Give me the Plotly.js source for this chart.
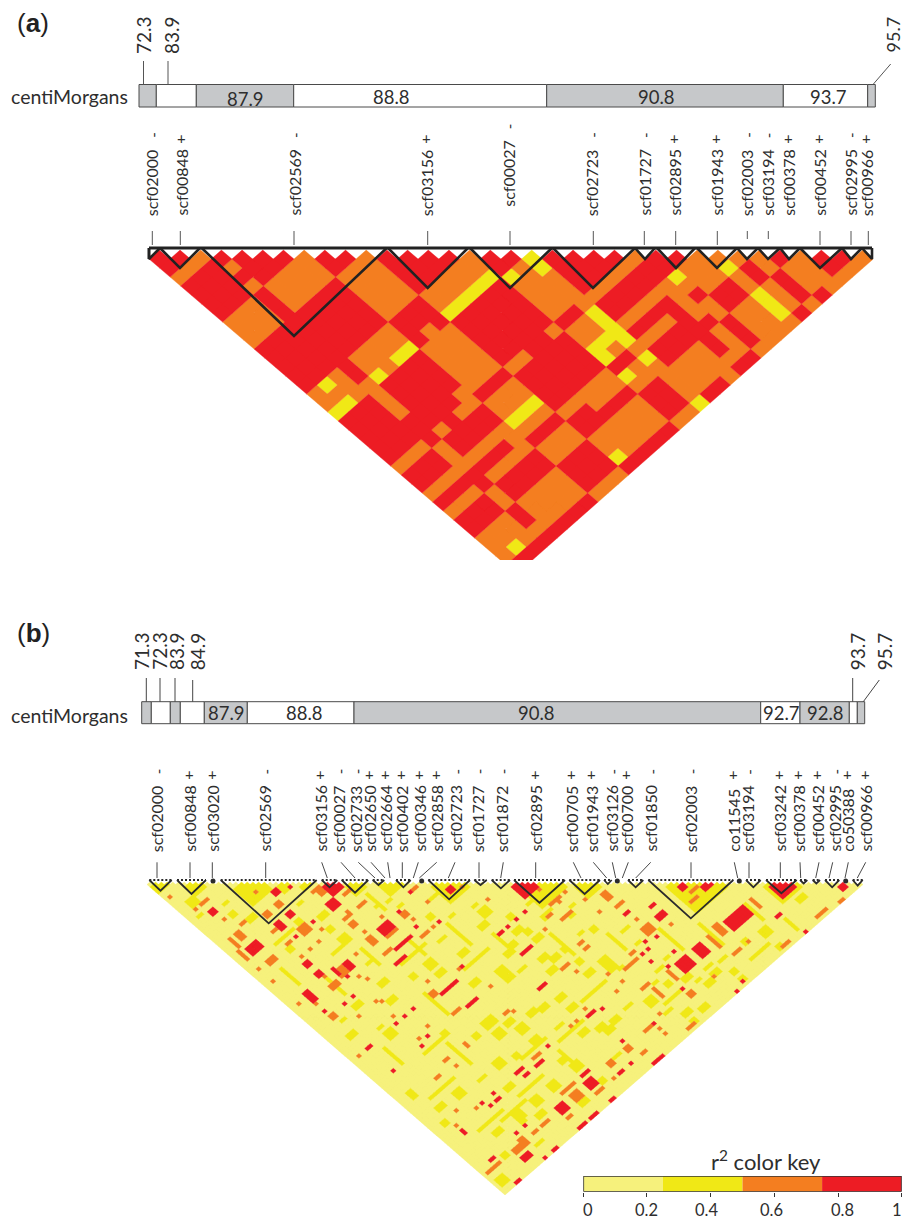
<!DOCTYPE html>
<html><head><meta charset="utf-8">
<script src="https://cdn.plot.ly/plotly-3.0.1.min.js"></script>
<style>html,body{margin:0;padding:0;background:#fff}#c{width:904px;height:1219px}</style></head>
<body><div id="c"></div>
<script>
// ---------- r2 classes ----------
var keyBreaks=[0,0.25,0.5,0.75,1];
var keyColors=['#f6f17c','#f0e816','#f47e20','#ed1c24'];
var keyTicks=[0,0.2,0.4,0.6,0.8,1];
var keyLabels=['0','0.2','0.4','0.6','0.8','1'];

// ---------- panel a: LD classes, one run-length string per SNP j (r=0.75-1, o=0.5-0.75, y=0.25-0.5) ----------
var aRows=["1r","2r","3o","4r","3r1o1r","6r","3r1o3r","3o1r4o","3o1r4o1r","3o1r4o2r","8r3o","8r3o1r","8r3o2r","8r3o3r","8r3o4r",
"1o1y1o1r4o3r5o","3o1r4o3r5o1r","2y2o1y1o2y1r1o1r5y2r","3r1o4r3o5r1y1o1y","3r1o4r3o5r2o1y1r","3r1o4r3o5r3o2r","8r3o5r3o3r","7r4o5r3o4r",
"3o1r1o1r2o3r2o2r1o2r6o","3r1o4r3o5r2o1y6r","3r1o4r3o5r2o1y7r","8o3y5r3y5o1y2o","7r4o5r1y1o1y4r5o","3o1r4o3r5o2r4o1r1o1r2o1y1o",
"3r1o4r3o2r3o1y1o1y4r2o2r1o1r1o","3r1o4r3o5r3o5r1o2r1o1r1o1r","3o1r4o3r5o2r4o1r1o1r2o1y1o1r2o","3o1r4o3r5o2r4o1r1o1r2o1y1o1r2o1r",
"1o1y6o3r1y4o2r6o1r2o1y1o1r2o2r","8r3o5r2o1y2r1o2r4o1r1o1r4o"];

// ---------- panel b: 125 SNPs, pale everywhere except these blocks [i0,i1,j0,j1] ----------
var bYellow=[[3,5,10,12],[8,9,20,21],[10,12,24,25],[11,12,37,38],[18,19,33,34],[23,25,36,37],[22,23,40,41],[22,24,44,45],[32,34,64,66],[32,34,68,69],[20,22,60,61],[18,20,65,66],[11,13,60,61],[4,6,65,66],[11,13,71,73],[30,33,86,88],[30,32,90,92],[52,54,63,65],[49,51,66,67],[40,42,68,69],[48,50,76,77],[36,38,76,77],[43,45,79,80],
[2,3,15,15],[9,10,17,17],[14,15,20,20],[22,23,30,30],[35,36,44,44],[38,39,45,45],[39,40,48,48],[46,47,59,59],[52,53,61,61],[42,43,55,56],[39,41,62,62],[22,23,54,54],[27,28,64,65],[6,7,61,61],[11,12,69,69],[21,22,81,82],[26,27,87,88],
[54,56,73,74],[56,57,75,76],[56,58,78,79],[51,52,75,76],[62,63,75,76],[43,45,78,79],[43,45,81,82],[52,54,87,88],[55,57,85,86],[59,60,85,86],[65,66,85,85],[68,69,86,87],[63,65,94,95],[63,65,96,98],[65,66,99,99],[35,37,93,95],[35,37,98,99],[49,51,107,108],[50,52,109,110],[63,65,110,112],[68,69,108,108],[70,71,110,111],[74,76,112,113],[77,79,117,118],[80,82,116,117],[84,85,119,120],[92,93,115,116],[97,99,116,118],[97,98,122,123],[110,112,116,117],[84,85,122,123],[71,73,121,122],[67,69,119,120],[67,68,122,123],
[67,68,80,80],[69,70,78,78],[73,75,92,92],[73,74,97,97],[71,73,106,106],[75,76,105,105],[84,86,115,115],[80,82,114,114],[76,77,115,115],[64,66,116,116],[58,60,108,108],[53,55,108,109],[45,47,105,106],[42,44,100,100],[48,50,98,99],[40,42,92,93],[34,36,90,91],[43,45,93,94],[48,50,94,95],[58,60,94,95],[59,60,90,91],[53,55,83,84],[47,49,82,82],[64,65,75,75],[62,63,70,70],[56,57,69,70],
[3,4,87,89],[3,4,99,100],[23,25,110,112],[17,19,110,112],[24,26,96,98],[21,23,103,104],[11,13,95,97],[5,7,95,96],[18,20,97,97],[10,12,110,111],[7,8,116,117],[1,3,120,122],[29,30,98,99],[36,38,107,108],[37,39,110,112],[29,31,110,112],[21,23,114,115],[17,18,113,113],[31,33,119,120],[39,40,118,119],[46,48,116,116],[15,17,120,120],
[0,3,1,3],[6,9,7,10],[14,20,16,22],[22,24,23,25],[26,28,27,28],[34,37,35,38],[49,55,50,56],[64,72,65,73],[74,78,75,79],[90,100,91,101],[107,113,108,114],[75,77,76,77],[40,44,40,44],
[14,22,109,109],[22,30,107,107],[38,38,105,110],[30,38,100,100],[40,48,103,103],[8,16,107,107],[6,14,92,92],[20,20,84,92],[26,26,70,78],[34,34,56,62],[44,44,60,68],[50,50,70,76],[60,60,80,88],[70,70,90,96],[80,80,98,106],[88,88,104,112],[100,100,108,114],[12,12,50,56],[24,24,50,56],[28,36,60,60],[38,46,72,72],[14,22,82,82],[8,8,74,80],[52,60,99,99],[66,72,114,114],[90,96,120,120],[104,104,118,122],[36,36,40,46],[46,52,52,52],[18,24,46,46],[6,6,40,46],[10,16,34,34]];
var bOrange=[[28,29,30,32],[32,34,36,36],[5,7,13,13],[6,6,20,20],[8,9,24,24],[5,6,25,27],[3,3,25,28],[2,2,29,32],[5,7,36,37],[2,2,36,36],[14,15,26,27],[12,13,31,31],[18,19,26,27],[17,19,35,37],[12,13,36,36],[12,12,41,41],[5,5,53,53],[5,6,58,59],[2,2,50,50],[15,17,50,52],[11,13,52,53],[12,12,49,49],[22,22,50,50],[31,34,52,52],[27,28,49,51],[27,29,55,55],[32,34,41,41],[27,28,43,44],[27,29,41,41],[38,39,50,51],[39,39,53,53],[45,46,47,47],[45,45,52,52],[37,39,58,58],[27,28,71,72],[27,29,79,79],[23,23,87,88],[37,38,71,71],[39,39,80,80],[16,16,63,63],
[67,67,69,69],[66,69,74,74],[63,64,76,76],[65,68,79,79],[73,73,79,79],[77,78,81,83],[77,79,86,86],[78,78,92,92],[77,79,95,97],[93,95,96,96],[91,93,98,98],[90,91,107,110],[102,102,108,111],[87,87,108,112],[73,73,108,111],[72,73,116,117],[67,67,109,112],[65,67,107,107],[66,70,100,100],[70,71,98,98],[63,64,87,87],[63,64,89,89],[55,57,89,89],[36,37,88,88],[50,51,116,117],[57,59,116,116],[65,67,123,123],[63,63,115,115],[110,113,123,123],[117,118,124,124],[98,100,123,123],[88,90,116,116],[62,62,98,98],[51,51,101,101],[83,83,99,99],[73,73,84,84],[71,71,74,74],[68,68,75,75],[60,60,78,78],[57,57,92,92],[60,60,103,103],[63,63,102,102],[93,93,116,116],[80,80,117,117],[45,45,102,102],[47,47,102,102],[60,60,118,118],[60,60,120,120],
[11,12,89,89],[16,17,87,87],[17,17,90,90],[2,2,71,71],[5,5,102,102],[8,8,99,99],[32,34,102,102],[12,12,102,102],[3,5,117,117],[1,2,117,117],[10,12,117,118],[13,14,116,118],[17,18,117,117],[20,22,117,117],[31,33,116,118],[26,27,120,120],[36,38,120,120],[44,45,116,117],[42,42,120,120],[52,53,120,120],[30,34,114,114],
[1,1,6,6],[3,3,13,13],[21,21,39,39],[18,18,41,41],[15,15,41,41],[2,2,41,41],[28,28,47,47],[34,34,47,47],[41,41,58,58],[56,56,62,62],[29,29,40,40],[18,18,55,55],[19,19,57,57],[10,10,63,63],[17,17,64,64],[16,16,69,69],[29,29,68,68],[20,20,77,77],[16,16,78,78],[38,38,89,89],[54,54,55,55],[27,27,30,30],[17,17,20,20]];
var bRed=[[20,21,23,24],[27,29,35,37],[5,6,16,17],[4,7,30,32],[14,15,30,32],[18,19,30,31],[15,15,36,36],[11,12,43,44],[5,6,49,52],[5,5,56,56],[18,19,50,52],[15,15,49,51],[11,12,47,48],[31,34,49,51],[30,35,56,56],[27,30,59,59],[38,38,49,49],[43,43,58,58],[29,34,73,73],[31,34,80,80],[18,18,71,71],[15,15,71,71],[18,18,79,79],[15,15,80,80],[5,6,71,71],[21,21,71,71],[51,52,71,71],[16,16,53,53],[38,38,71,71],
[63,67,64,68],[77,78,89,89],[82,84,95,96],[96,98,97,98],[96,99,108,111],[93,95,108,111],[82,84,108,111],[76,79,108,111],[72,72,114,114],[51,54,79,79],[47,49,89,89],[50,52,103,103],[54,54,104,104],[37,37,102,102],[103,104,116,116],[105,105,124,124],[81,81,124,124],[57,57,71,71],[54,54,71,71],[60,60,71,71],[75,75,98,98],[78,78,99,99],[83,84,92,92],[72,72,100,100],[74,74,100,100],[72,72,103,103],[78,78,105,105],[74,74,107,107],[84,84,123,123],[60,60,116,116],[51,51,114,114],[5,5,80,80],[5,5,104,105],[26,28,102,102],[27,28,104,104],[31,33,104,104],[18,18,102,102],[17,18,104,104],[14,14,102,102],[15,15,104,104],[4,5,115,115],[10,12,120,121],[26,28,116,118],[36,38,116,118],[44,45,120,120],[48,48,120,120],[52,55,124,124],[30,32,124,124],[26,28,124,124],[37,38,124,124],[17,18,124,124],[4,5,124,124],[14,14,124,124],[37,39,114,114],[14,14,114,114],[17,17,114,114],
[30,33,31,34],[108,112,109,113],[24,24,25,25],[21,21,36,36],[38,38,55,55],[44,44,47,47],[13,13,58,58],[10,10,58,58],[54,54,71,71],[51,52,53,54],[92,93,93,94],[120,121,121,122]];

// ---------- panel a annotation data ----------
var aMapEdges=[139,156.3,196.3,293.7,546.7,783.3,867.7,875.3];
var aMapFill=[1,0,1,0,1,0,1];
var aMapLabels=['87.9','88.8','90.8','93.7'];
var aMapLabelX=[245,391,656,828];
var aMapLabelY=[99,97,97,97];
var aCmLabels=['72.3','83.9','95.7'];
var aCmLabelX=[143,171,892.5];
var aCmTickTop=[143.5,168,890.7];
var aCmTickBottom=[143.5,168,873];
var aMarkers=['scf02000','scf00848','scf02569','scf03156','scf00027','scf02723','scf01727','scf02895','scf01943','scf02003','scf03194','scf00378','scf00452','scf02995','scf00966'];
var aSigns=['-','+','-','+','-','-','-','+','+','-','-','+','+','-','+'];
var aMarkerX=[151.7,181,294,426.7,508.3,591.7,644,674,716,746.7,767.3,788.3,819.3,850,866.7];
var aTickX=[152.3,180.3,294,427.7,510,593.3,644.3,675.7,717.3,747.3,768.3,null,820,851,868.3];
var aBlockStart=[149,160,201.7,388,470,553,635,657,697,737,758,780,800,842,862];
var aBlockEnd=[160,200,386.7,468,552,635,655,695,737,758,780,800,842,862,872];
var aBlockApexX=[149,180,294,427.7,510,593,645,676,717,747,768,789,820,851,872];
var aBlockApexY=[259,268,336,288,288,288,259,268,268,259,259,259,268,259,259];

// ---------- panel b annotation data ----------
var bMapEdges=[141.7,151.3,170.3,180.3,204.3,247.3,354,760.7,800,849.3,857.3,864.7];
var bMapFill=[1,0,1,0,1,0,1,0,1,0,1];
var bMapLabels=['87.9','88.8','90.8','92.7','92.8'];
var bMapLabelX=[226,304,536.7,781.7,825.7];
var bCmLabels=['71.3','72.3','83.9','84.9','93.7','95.7'];
var bCmLabelX=[141,158.7,176,197.3,857.3,884.3];
var bCmTickTop=[146.3,160,175,192.7,852.7,879.3];
var bCmTickBottom=[146.3,160,175,192.7,852.7,863.3];
var bMarkers=['scf02000','scf00848','scf03020','scf02569','scf03156','scf00027','scf02733','scf02650','scf02664','scf00402','scf00346','scf02858','scf02723','scf01727','scf01872','scf02895','scf00705','scf01943','scf03126','scf00700','scf01850','scf02003','co11545','scf03194','scf03242','scf00378','scf00452','scf02995','co50388','scf00966'];
var bSigns=['-','+','+','-','+','-','-','+','+','+','+','+','-','-','-','+','+','+','-','+','-','-','+','-','+','+','+','-','+','+'];
var bMarkerX=[156.7,189.3,212.3,264,320,338.7,355.7,369.3,385,401.7,419,436,455,477.7,501.7,535,571.7,591.7,611,626.7,650,690.7,733.3,747.3,779,798.3,817.3,834,847.3,865];
var bLeadTop=[157,190,212.3,265.7,321.7,341,358.3,371,387.7,402.3,418.3,436.7,455,479,503.3,535.7,573.3,593.3,612.3,628.3,650.7,691,734.3,749,780.3,800,819,832.7,848.3,865.7];
var bLeadBottom=[157,190,212.3,265.7,327.3,355,375,385,390,402.3,413.3,419.3,448.3,479,500.7,535.7,581,606.7,615.7,622.3,635.7,691,737.7,749,780.3,800.7,815.7,829,845,857.3];
var bBlockStart=[149.3,177,220.7,321.7,341.7,372.7,396,428.3,474.3,491.7,514,569.3,604,628,648.3,746,766,800,812.7,825,852.7];
var bBlockEnd=[171.7,206,316.7,337.3,368.3,384.3,410.7,470,486.7,510,565,600,611.7,643.3,733.3,760.7,796.7,807.3,820,839.3,862.7];
var bBlockApexY=[890.7,894,923.3,887.3,892.7,885,887.3,899.3,885,888.3,902.7,894,884,887.3,918.3,887.3,893.3,883.5,883.5,887.3,885.7];
var bDotsX=[213,421.7,617.3,739.3,845.7];

// ---------- helpers ----------
var W=904,H=1219;
function decode(str){var out=[],m,re=/(\d+)([roy])/g;while((m=re.exec(str))){for(var k=0;k<+m[1];k++)out.push(m[2]);}return out;}
var cls={p:0,y:1,o:2,r:3};
function cellTraces(matrix,skew,xa,ya){
  var xs=[[],[],[],[]],ys=[[],[],[],[]];
  matrix.forEach(function(row,j){row.forEach(function(c,i){
    var X=(i+j+1)/2,Y=(j-i+1)/2,k=c;
    var px=[X,X+.5,X,X-.5,X],py=[Y-.5,Y,Y+.5,Y,Y-.5];
    for(var n=0;n<5;n++){xs[k].push(px[n]+skew*py[n]);ys[k].push(py[n]);}
    xs[k].push(null);ys[k].push(null);
  });});
  return xs.map(function(x,k){return {x:x,y:ys[k],xaxis:xa,yaxis:ya,mode:'lines',fill:'toself',fillcolor:keyColors[k],
    line:{color:keyColors[k],width:0.4},hoverinfo:'skip',showlegend:false,type:'scatter'};});
}
var aMatrix=aRows.map(function(s){return decode(s).map(function(c){return cls[c];});});
var bN=125,bMatrix=[];
for(var j=0;j<bN;j++){var row=[];for(var i=0;i<=j;i++)row.push(0);bMatrix.push(row);}
function paint(list,v){list.forEach(function(p){for(var j=p[2];j<=p[3]&&j<bN;j++)for(var i=p[0];i<=p[1]&&i<=j;i++)bMatrix[j][i]=v;});}
paint(bYellow,1);paint(bOrange,2);paint(bRed,3);

var traces=[].concat(cellTraces(aMatrix,0.015,'x','y'),cellTraces(bMatrix,0,'x2','y2'));

function seg(xs,ys,color,width,dash){traces.push({x:xs,y:ys,xaxis:'x3',yaxis:'y3',mode:'lines',line:{color:color,width:width,dash:dash||'solid'},hoverinfo:'skip',showlegend:false,type:'scatter'});}
var ann=[];
function txt(t,x,y,size,opt){opt=opt||{};ann.push({xref:'x3',yref:'y3',x:x,y:y,text:t,showarrow:false,textangle:opt.angle||0,
  xanchor:opt.xa||'center',yanchor:opt.ya||'middle',font:{family:opt.family||'Lato, sans-serif',size:size,color:opt.color||'#2e2e2e'},borderpad:0});}
function mapBar(edges,fill,top,bottom){
  for(var k=0;k<fill.length;k++){
    traces.push({x:[edges[k],edges[k+1],edges[k+1],edges[k],edges[k]],y:[top,top,bottom,bottom,top],xaxis:'x3',yaxis:'y3',mode:'lines',fill:'toself',
      fillcolor:fill[k]?'#c6c8ca':'#ffffff',line:{color:'#4a4a4a',width:1},hoverinfo:'skip',showlegend:false,type:'scatter'});
  }
}
// panel a
mapBar(aMapEdges,aMapFill,84.5,107);
aMapLabels.forEach(function(t,k){txt(t,aMapLabelX[k],aMapLabelY[k],18.5);});
aCmLabels.forEach(function(t,k){txt(t,aCmLabelX[k],35,k==2?18:19,{angle:-90});seg([aCmTickTop[k],aCmTickBottom[k]],[k==2?64:61,84.5],'#555',1);});
txt('centiMorgans',10,96,19.5,{xa:'left'});
txt('(<b>a</b>)',16,23,26,{xa:'left',family:'Liberation Sans, Arial, sans-serif',color:'#222'});
aMarkers.forEach(function(t,k){
  var shift=t=='scf00027'?9:0;
  txt(t,aMarkerX[k],217-shift,16,{angle:-90,ya:'bottom'});
  txt(aSigns[k],aMarkerX[k]+(aSigns[k]=='-'?1:0),(aSigns[k]=='-'?135:138)-shift,15,{angle:aSigns[k]=='-'?-90:0});
  if(aTickX[k]!==null){seg([aTickX[k],aTickX[k]],[231,(t=='scf02003'||t=='scf03194')?239:245],'#555',1);}
});
aBlockStart.forEach(function(s,k){
  seg([s,aBlockApexX[k],aBlockEnd[k]],[248,aBlockApexY[k],248],'#222222',2.6);
});
seg([aBlockStart[0],aBlockStart[0]],[248,aBlockApexY[0]],'#222222',2.6);
seg([aBlockStart[0],aBlockEnd[aBlockEnd.length-1]],[248,248],'#222222',3);
// panel b
mapBar(bMapEdges,bMapFill,701.7,723.7);
bMapLabels.forEach(function(t,k){txt(t,bMapLabelX[k],713,18.5);});
bCmLabels.forEach(function(t,k){txt(t,bCmLabelX[k],651,19,{angle:-90});seg([bCmTickTop[k],bCmTickBottom[k]],[k==3||k==5?680:678,701.7],'#444',1);});
txt('centiMorgans',10,715,19.5,{xa:'left'});
txt('(<b>b</b>)',16,633,26,{xa:'left',family:'Liberation Sans, Arial, sans-serif',color:'#222'});
bMarkers.forEach(function(t,k){
  txt(t,bMarkerX[k],853,16,{angle:-90,ya:'bottom'});
  txt(bSigns[k],bMarkerX[k]+(bSigns[k]=='-'?1:0),bSigns[k]=='-'?771.5:774,15,{angle:bSigns[k]=='-'?-90:0});
  seg([bLeadTop[k],bLeadBottom[k]],[862.3,878],'#333',0.9);
});
bBlockStart.forEach(function(s,k){
  var e=bBlockEnd[k],m=(s+e)/2;
  seg([s,m,e],[880,bBlockApexY[k],880],'#2b2b2b',1.8);
  seg([s,e],[880,880],'#2b2b2b',2.2,'2px,2px');
});
traces.push({x:bDotsX,y:bDotsX.map(function(){return 881;}),xaxis:'x3',yaxis:'y3',mode:'markers',marker:{color:'#2b2b2b',size:5},hoverinfo:'skip',showlegend:false,type:'scatter'});
// key
for(var k=0;k<4;k++){
  traces.push({x:[keyBreaks[k],keyBreaks[k+1],keyBreaks[k+1],keyBreaks[k],keyBreaks[k]],y:[0,0,1,1,0],xaxis:'x4',yaxis:'y4',mode:'lines',fill:'toself',fillcolor:keyColors[k],line:{color:keyColors[k],width:0},hoverinfo:'skip',showlegend:false,type:'scatter'});
}
traces.push({x:[0,1,1,0,0],y:[0,0,1,1,0],xaxis:'x4',yaxis:'y4',mode:'lines',line:{color:'#333',width:1.6},hoverinfo:'skip',showlegend:false,type:'scatter'});
var keyLabelX=[588,646,706,771.7,842.7,897];
keyLabels.forEach(function(t,k){txt(t,keyLabelX[k],1209.5,16.5);});
txt('r<sup>2</sup> color key',765.7,1160,22);

function hidden(o){return Object.assign({visible:false,fixedrange:true},o);}
var layout={width:W,height:H,margin:{l:0,r:0,t:0,b:0},paper_bgcolor:'#fff',plot_bgcolor:'rgba(0,0,0,0)',showlegend:false,annotations:ann,
  xaxis:hidden({domain:[149/W,873/W],range:[0,35],anchor:'y'}),
  yaxis:hidden({domain:[1-560/H,1-249/H],range:[17.22,-0.06],anchor:'x'}),
  xaxis2:hidden({domain:[147/W,863/W],range:[0,bN],anchor:'y2'}),
  yaxis2:hidden({domain:[1-1195/H,1-880/H],range:[63,-0.4],anchor:'x2'}),
  xaxis3:hidden({domain:[0,1],range:[0,W],anchor:'y3'}),
  yaxis3:hidden({domain:[0,1],range:[H,0],anchor:'x3'}),
  xaxis4:{domain:[583.3/W,901.7/W],range:[0,1],anchor:'y4',tickvals:keyTicks,showticklabels:false,ticks:'outside',ticklen:4,tickcolor:'#333',showgrid:false,zeroline:false,showline:false,fixedrange:true},
  yaxis4:hidden({domain:[1-1191.7/H,1-1176/H],range:[0,1],anchor:'x4'})
};
Plotly.newPlot('c',traces,layout,{displayModeBar:false,staticPlot:true});
</script></body></html>
